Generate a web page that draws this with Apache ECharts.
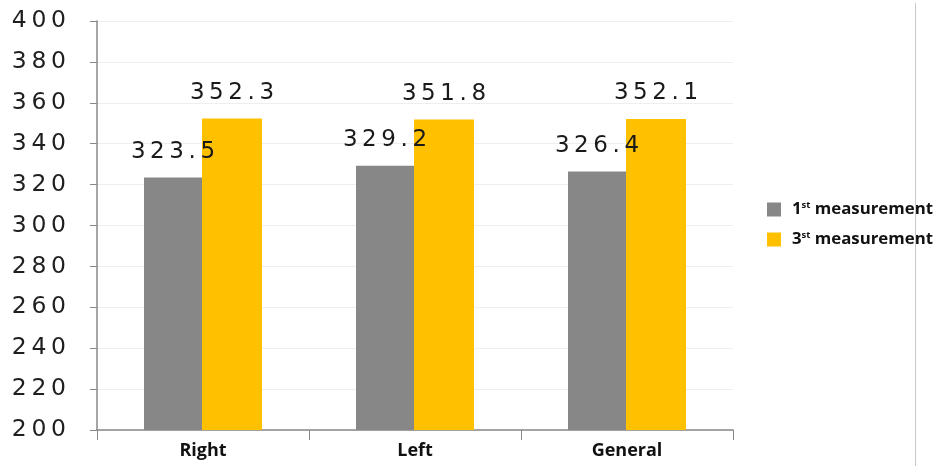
<!DOCTYPE html>
<html><head><meta charset="utf-8">
<script src="https://cdn.jsdelivr.net/npm/echarts@6/dist/echarts.min.js"></script>
<style>html,body{margin:0;padding:0;background:#fff}#c{width:938px;height:469px}</style>
</head><body><div id="c"></div>
<script>
const categories = ['Right', 'Left', 'General'];
const firstMeasurement = [323.5, 329.2, 326.4];
const thirdMeasurement = [352.3, 351.8, 352.1];
const seriesNames = ['1st measurement', '3st measurement'];

const spaced = v => String(v).split('').join('\u2009');
const chart = echarts.init(document.getElementById('c'));
const labelStyle = {
  show: true, position: 'top', distance: 14,
  fontFamily: 'DejaVu Sans', fontSize: 23, color: '#1a1a1a',
  formatter: p => spaced(p.value.toFixed(1))
};
const leg = { fontFamily: 'Open Sans', fontWeight: 'bold', fontSize: 16.8, color: '#111' };
chart.setOption({
  animation: false,
  grid: { left: 97, right: 205, top: 21, bottom: 39 },
  legend: {
    orient: 'vertical', left: 762, top: 195,
    itemWidth: 14, itemHeight: 14, itemGap: 12,
    icon: 'rect',
    data: seriesNames,
    formatter: n => n === seriesNames[0] ? '{n|1}{s|st}{t| measurement}' : '{n|3}{s|st}{t| measurement}',
    textStyle: {
      rich: {
        n: Object.assign({}, leg, { padding: [0, 0, 0, 6] }),
        s: Object.assign({}, leg, { fontSize: 9.5, verticalAlign: 'top', padding: [0, 0, 9, 0] }),
        t: leg
      }
    }
  },
  xAxis: {
    type: 'category', data: categories,
    axisLine: { lineStyle: { color: '#888', width: 1.5 } },
    axisTick: { show: true, length: 10, lineStyle: { color: '#888' } },
    axisLabel: { fontFamily: 'Open Sans', fontWeight: 'bold', fontSize: 18, color: '#111', margin: 12 }
  },
  yAxis: {
    type: 'value', min: 200, max: 400, interval: 20,
    axisLine: { show: true, lineStyle: { color: '#888', width: 1.5 } },
    axisTick: { show: true, length: 7, lineStyle: { color: '#888' } },
    splitLine: { lineStyle: { color: '#eeeeee' } },
    axisLabel: { fontFamily: 'DejaVu Sans', fontSize: 23.5, color: '#1f1f1f', margin: 31, formatter: v => spaced(v) }
  },
  series: [
    { name: seriesNames[0], type: 'bar', data: firstMeasurement, barWidth: 58, barGap: '0%',
      itemStyle: { color: '#878787' }, label: labelStyle },
    { name: seriesNames[1], type: 'bar', data: thirdMeasurement, barWidth: 60,
      itemStyle: { color: '#FFC000' }, label: labelStyle }
  ],
  graphic: [{ type: 'line', shape: { x1: 915.5, y1: 3, x2: 915.5, y2: 466 }, style: { stroke: '#c8c8c8', lineWidth: 1 } }]
});
</script></body></html>
